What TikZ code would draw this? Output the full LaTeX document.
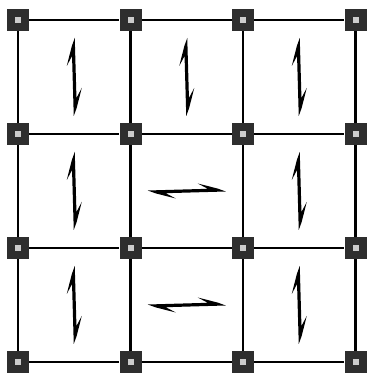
\documentclass[tikz,border=0pt]{standalone}
\usetikzlibrary{positioning}

\begin{document}
\begin{tikzpicture}[
  x=0.02cm, y=0.02cm,
  site/.style = {rectangle, fill=black!82, minimum size=0.44cm, inner sep=0pt,
                 path picture={\fill[white!80!black]
                   ([shift={(-0.06cm,-0.06cm)}]path picture bounding box.center)
                   rectangle ++(0.12cm,0.12cm);}},
  bond/.style = {line width=1.5pt},
  spin/.pic   = {\fill (0.5,39) -- (2.2,-21) -- (7.5,-11) -- (2.4,-31) -- (-0.5,-39)
                   -- (-2.2,21) -- (-7.5,11) -- (-2.4,31) -- cycle;}
]
  \useasboundingbox (0,0) rectangle (370,375);

  % lattice sites
  \foreach \i/\x in {0/18, 1/130.5, 2/243, 3/355.5}
    \foreach \j/\y in {0/355, 1/241, 2/127, 3/13}
      \node[site] (s-\i-\j) at (\x,\y) {};

  % bonds
  \foreach \i [count=\k from 1] in {0,1,2}
    \foreach \j in {0,...,3} {
      \draw[bond] (s-\i-\j) -- (s-\k-\j);
      \draw[bond] (s-\j-\i) -- (s-\j-\k);
    }

  % spins in the cells
  \foreach \x/\y/\r in {74.25/298/0, 186.75/298/0, 299.25/298/0,
                        74.25/184/0, 186.75/184/-90, 299.25/184/0,
                        74.25/70/0, 186.75/70/-90, 299.25/70/0}
    \pic[rotate=\r] at (\x,\y) {spin};
\end{tikzpicture}
\end{document}
